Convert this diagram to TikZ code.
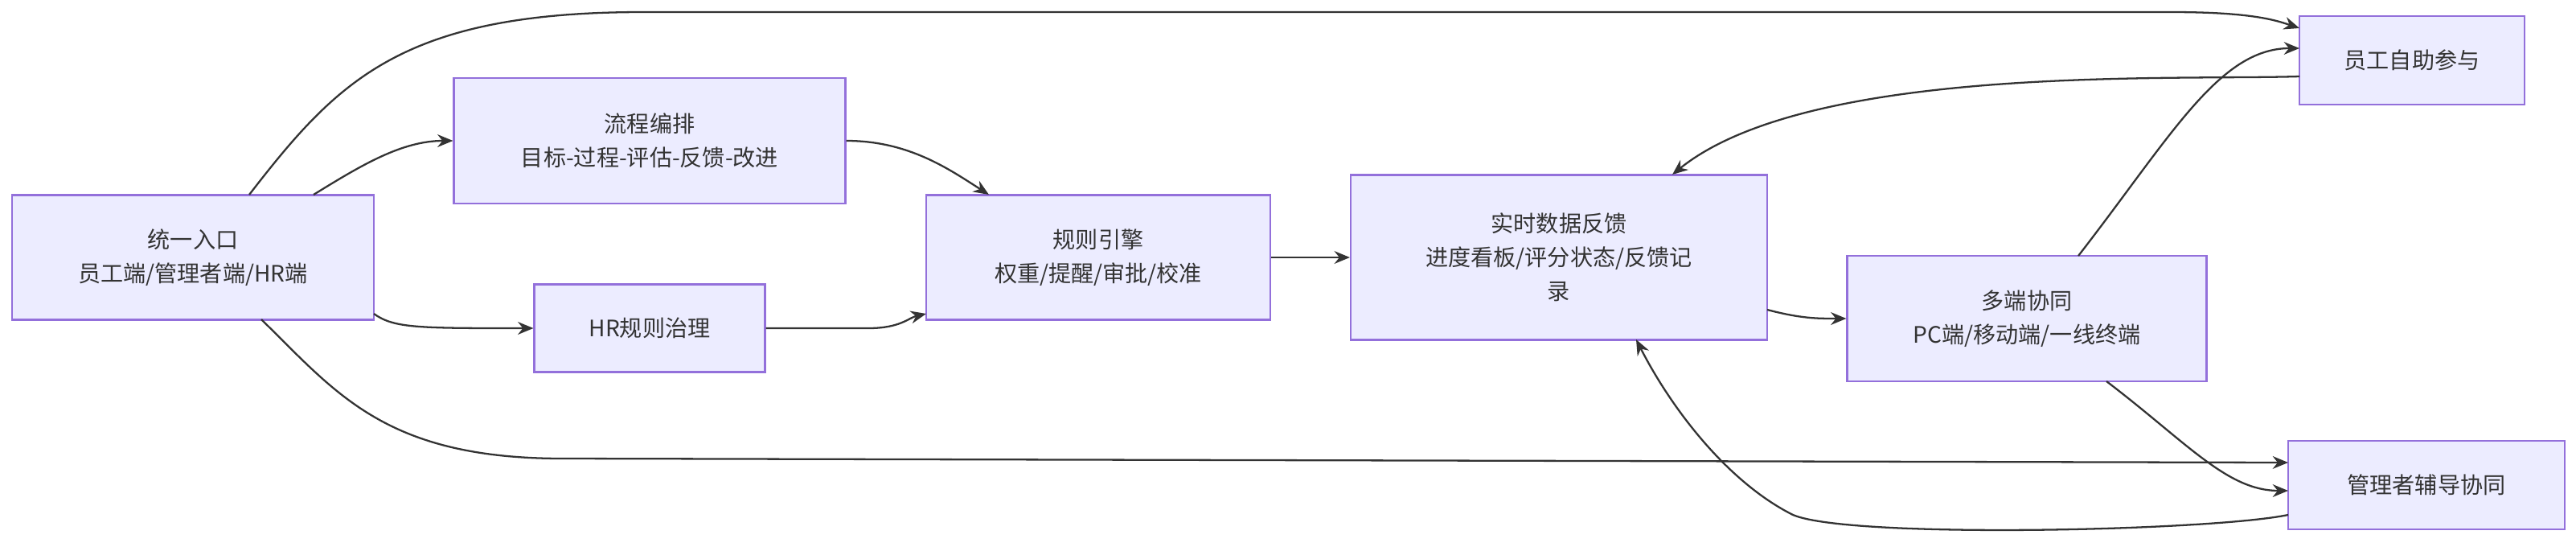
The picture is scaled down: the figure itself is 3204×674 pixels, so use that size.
\documentclass[tikz,border=0pt]{standalone}
\usepackage{fontspec}
\setmainfont{Noto Sans CJK SC}
\usetikzlibrary{arrows.meta}
\definecolor{nfill}{HTML}{ECECFF}
\definecolor{nline}{HTML}{9370DB}
\definecolor{eline}{HTML}{333333}
\begin{document}
\begin{tikzpicture}[x=0.02cm,y=-0.02cm,
  box/.style={draw=nline,fill=nfill,line width=1.2pt,align=center,font=\fontsize{16}{24}\selectfont,text=eline,inner sep=0pt},
  edge/.style={draw=eline,line width=1.3pt,-{Stealth[length=11pt,width=9pt]}}]
\useasboundingbox (0,0) rectangle (3204,674);
\node[box,minimum width=450*0.02cm,minimum height=155*0.02cm] (a) at (240,320) {统一入口\\员工端/管理者端/HR端};
\node[box,minimum width=487*0.02cm,minimum height=156*0.02cm] (b) at (808,175) {流程编排\\目标-过程-评估-反馈-改进};
\node[box,minimum width=287*0.02cm,minimum height=109*0.02cm] (c) at (808,408) {HR规则治理};
\node[box,minimum width=428*0.02cm,minimum height=155*0.02cm] (d) at (1366,320) {规则引擎\\权重/提醒/审批/校准};
\node[box,minimum width=518*0.02cm,minimum height=205*0.02cm] (e) at (1939,320) {实时数据反馈\\进度看板/评分状态/反馈记\\录};
\node[box,minimum width=447*0.02cm,minimum height=156*0.02cm] (f) at (2521,396) {多端协同\\PC端/移动端/一线终端};
\node[box,minimum width=280*0.02cm,minimum height=110*0.02cm] (g) at (3000,75) {员工自助参与};
\node[box,minimum width=344*0.02cm,minimum height=110*0.02cm] (h) at (3018,603) {管理者辅导协同};
\coordinate (a1) at (310,242);
\coordinate (g1) at (2860,35);
\draw[edge] (a1) .. controls (420,100) and (500,15) .. (800,15) -- (2700,15) .. controls (2800,15) and (2830,25) .. (g1);
\draw[edge] (390,242) .. controls (450,205) and (500,175) .. (b.west);
\draw[edge] (465,390) .. controls (490,408) and (520,408) .. (c.west);
\coordinate (h1) at (2846,575);
\draw[edge] (325,397) .. controls (420,490) and (480,570) .. (700,570) -- (h1);
\draw[edge] (b.east) .. controls (1130,175) and (1180,210) .. (1230,242);
\draw[edge] (c.east) -- (1080,408) .. controls (1120,408) and (1130,395) .. (1152,390);
\draw[edge] (d.east) -- (e.west);
\draw[edge] (2198,385) .. controls (2240,396) and (2260,396) .. (f.west);
\draw[edge] (2585,318) .. controls (2700,170) and (2760,60) .. (2860,60);
\draw[edge] (2620,474) .. controls (2720,550) and (2770,610) .. (2846,610);
\draw[edge] (2860,95) .. controls (2700,100) and (2250,80) .. (2080,217);
\draw[edge] (2846,640) .. controls (2750,660) and (2300,670) .. (2230,640) .. controls (2150,600) and (2080,510) .. (2035,422);
\end{tikzpicture}
\end{document}
